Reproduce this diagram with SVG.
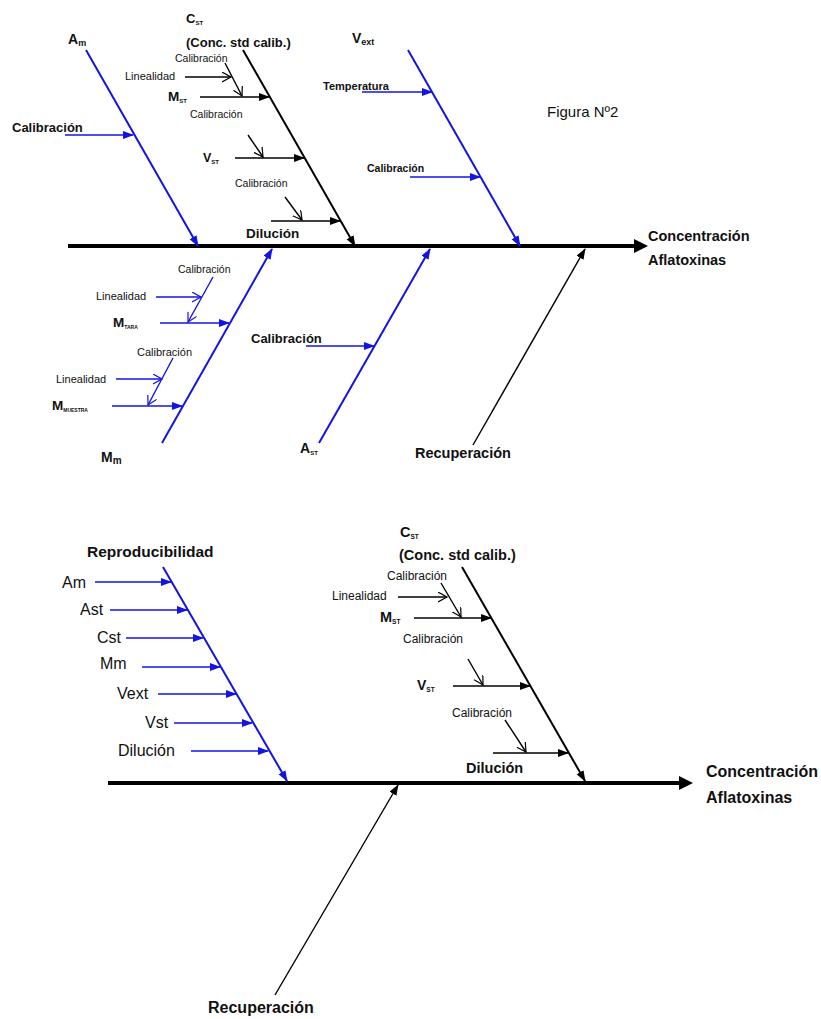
<svg xmlns="http://www.w3.org/2000/svg" width="821" height="1019" viewBox="0 0 821 1019">
  <style>
    text { font-family: "Liberation Sans", Arial, sans-serif; fill: #111; }
    .b { font-weight: bold; }
    .sub { font-weight: bold; }
    .spine { stroke: #000; stroke-width: 4; fill: none; }
    .bone-k { stroke: #000; stroke-width: 2; fill: none; }
    .bone-u { stroke: #1414e0; stroke-width: 2; fill: none; }
    .rib-k { stroke: #000; stroke-width: 1.4; fill: none; }
    .rib-u { stroke: #1414e0; stroke-width: 1.4; fill: none; }
  </style>
  <defs>
    <marker id="head-spine" markerUnits="userSpaceOnUse" markerWidth="16" markerHeight="16" refX="6" refY="7" orient="auto">
      <path d="M0,0 L14,7 L0,14 z" fill="#000"/>
    </marker>
    <marker id="fill-k" markerUnits="userSpaceOnUse" markerWidth="12" markerHeight="10" refX="10" refY="4" orient="auto">
      <path d="M0,0 L11,4 L0,8 z" fill="#000"/>
    </marker>
    <marker id="fill-u" markerUnits="userSpaceOnUse" markerWidth="12" markerHeight="10" refX="10" refY="4" orient="auto">
      <path d="M0,0 L11,4 L0,8 z" fill="#1414e0"/>
    </marker>
    <marker id="open-k" markerUnits="userSpaceOnUse" markerWidth="12" markerHeight="12" refX="9" refY="5" orient="auto">
      <path d="M0,0 L9,5 L0,10" fill="none" stroke="#000" stroke-width="1.2"/>
    </marker>
    <marker id="open-u" markerUnits="userSpaceOnUse" markerWidth="12" markerHeight="12" refX="9" refY="5" orient="auto">
      <path d="M0,0 L9,5 L0,10" fill="none" stroke="#1414e0" stroke-width="1.2"/>
    </marker>
  </defs>

  <!-- ===== Upper fishbone ===== -->
  <g id="connectors-top">
    <line class="spine" x1="68" y1="246" x2="640" y2="246" marker-end="url(#head-spine)"/>
    <!-- A_m bone -->
    <line class="bone-u" x1="86" y1="50" x2="198" y2="246" marker-end="url(#fill-u)"/>
    <line class="rib-u" x1="65" y1="135" x2="133" y2="135" marker-end="url(#fill-u)"/>
    <!-- C_ST bone -->
    <line class="bone-k" x1="243" y1="50" x2="355" y2="246" marker-end="url(#fill-k)"/>
    <line class="rib-k" x1="200" y1="97" x2="269" y2="97" marker-end="url(#fill-k)"/>
    <line class="rib-k" x1="185" y1="77" x2="231" y2="77" marker-end="url(#open-k)"/>
    <line class="rib-k" x1="225" y1="63" x2="242" y2="96" marker-end="url(#open-k)"/>
    <line class="rib-k" x1="235" y1="158" x2="304" y2="158" marker-end="url(#fill-k)"/>
    <line class="rib-k" x1="248" y1="135" x2="263" y2="157" marker-end="url(#open-k)"/>
    <line class="rib-k" x1="271" y1="221" x2="340" y2="221" marker-end="url(#fill-k)"/>
    <line class="rib-k" x1="285" y1="197" x2="302" y2="220" marker-end="url(#open-k)"/>
    <!-- V_ext bone -->
    <line class="bone-u" x1="408" y1="50" x2="520" y2="246" marker-end="url(#fill-u)"/>
    <line class="rib-u" x1="362" y1="92" x2="432" y2="92" marker-end="url(#fill-u)"/>
    <line class="rib-u" x1="410" y1="177" x2="480" y2="177" marker-end="url(#fill-u)"/>
    <!-- M_m bone -->
    <line class="bone-u" x1="162" y1="443" x2="272" y2="249" marker-end="url(#fill-u)"/>
    <line class="rib-u" x1="160" y1="323" x2="229" y2="323" marker-end="url(#fill-u)"/>
    <line class="rib-u" x1="156" y1="297" x2="201" y2="297" marker-end="url(#open-u)"/>
    <line class="rib-u" x1="213" y1="277" x2="188" y2="322" marker-end="url(#open-u)"/>
    <line class="rib-u" x1="112" y1="406" x2="182" y2="406" marker-end="url(#fill-u)"/>
    <line class="rib-u" x1="116" y1="379" x2="162" y2="379" marker-end="url(#open-u)"/>
    <line class="rib-u" x1="173" y1="358" x2="148" y2="405" marker-end="url(#open-u)"/>
    <!-- A_ST bone -->
    <line class="bone-u" x1="319" y1="443" x2="430" y2="249" marker-end="url(#fill-u)"/>
    <line class="rib-u" x1="306" y1="346" x2="374" y2="346" marker-end="url(#fill-u)"/>
    <!-- Recuperación bone -->
    <line class="rib-k" x1="473" y1="445" x2="585" y2="249" stroke-width="1.6" marker-end="url(#fill-k)"/>
  </g>

  <g id="effect-top">
    <text class="b" x="648" y="241" font-size="14.5">Concentración</text>
    <text class="b" x="648" y="265" font-size="14.5">Aflatoxinas</text>
  </g>
  <g id="node-am">
    <text class="b" x="68" y="44" font-size="14">A<tspan font-size="9" dy="2">m</tspan></text>
    <text class="b" x="12" y="132" font-size="13">Calibración</text>
  </g>
  <g id="node-cst">
    <text class="b" x="186" y="23" font-size="13">C<tspan class="sub" font-size="6" dy="2">ST</tspan></text>
    <text class="b" x="186" y="47" font-size="13">(Conc. std calib.)</text>
    <text x="175" y="62" font-size="10.5">Calibración</text>
    <text x="125" y="80" font-size="11">Linealidad</text>
    <text class="b" x="168" y="101" font-size="13.5">M<tspan class="sub" font-size="6" dy="2">ST</tspan></text>
    <text x="190" y="118" font-size="10.5">Calibración</text>
    <text class="b" x="203" y="162" font-size="12.5">V<tspan class="sub" font-size="6" dy="2">ST</tspan></text>
    <text x="235" y="187" font-size="10.5">Calibración</text>
    <text class="b" x="246" y="238" font-size="13.5">Dilución</text>
  </g>
  <g id="node-vext">
    <text class="b" x="352" y="43" font-size="14">V<tspan font-size="9" dy="2">ext</tspan></text>
    <text class="b" x="323" y="90" font-size="11">Temperatura</text>
    <text class="b" x="367" y="172" font-size="10.5">Calibración</text>
  </g>
  <g id="caption">
    <text x="547" y="117" font-size="15">Figura Nº2</text>
  </g>
  <g id="node-mm">
    <text x="178" y="273" font-size="10.5">Calibración</text>
    <text x="96" y="300" font-size="11">Linealidad</text>
    <text class="b" x="113" y="327" font-size="13.5">M<tspan class="sub" font-size="5" dy="2">TARA</tspan></text>
    <text x="137" y="356" font-size="11">Calibración</text>
    <text x="56" y="383" font-size="11">Linealidad</text>
    <text class="b" x="52" y="410" font-size="13.5">M<tspan class="sub" font-size="5" dy="2">MUESTRA</tspan></text>
    <text class="b" x="101" y="462" font-size="14">M<tspan font-size="10" dy="2">m</tspan></text>
  </g>
  <g id="node-ast">
    <text class="b" x="251" y="343" font-size="13">Calibración</text>
    <text class="b" x="300" y="453" font-size="14">A<tspan class="sub" font-size="6" dy="2">ST</tspan></text>
  </g>
  <g id="node-recuperacion-top">
    <text class="b" x="415" y="458" font-size="14.5">Recuperación</text>
  </g>

  <!-- ===== Lower fishbone ===== -->
  <g id="connectors-bottom">
    <line class="spine" x1="108" y1="783" x2="685" y2="783" marker-end="url(#head-spine)"/>
    <!-- Reproducibilidad bone -->
    <line class="bone-u" x1="163" y1="567" x2="287" y2="781" marker-end="url(#fill-u)"/>
    <line class="rib-u" x1="95" y1="582" x2="171" y2="582" marker-end="url(#fill-u)"/>
    <line class="rib-u" x1="110" y1="610" x2="187" y2="610" marker-end="url(#fill-u)"/>
    <line class="rib-u" x1="126" y1="638" x2="203" y2="638" marker-end="url(#fill-u)"/>
    <line class="rib-u" x1="142" y1="667" x2="220" y2="667" marker-end="url(#fill-u)"/>
    <line class="rib-u" x1="158" y1="694" x2="236" y2="694" marker-end="url(#fill-u)"/>
    <line class="rib-u" x1="174" y1="723" x2="252" y2="723" marker-end="url(#fill-u)"/>
    <line class="rib-u" x1="191" y1="751" x2="268" y2="751" marker-end="url(#fill-u)"/>
    <!-- C_ST bone -->
    <line class="bone-k" x1="462" y1="567" x2="585" y2="781" marker-end="url(#fill-k)"/>
    <line class="rib-k" x1="414" y1="618" x2="491" y2="618" marker-end="url(#fill-k)"/>
    <line class="rib-k" x1="398" y1="597" x2="447" y2="597" marker-end="url(#open-k)"/>
    <line class="rib-k" x1="441" y1="583" x2="461" y2="617" marker-end="url(#open-k)"/>
    <line class="rib-k" x1="453" y1="686" x2="530" y2="686" marker-end="url(#fill-k)"/>
    <line class="rib-k" x1="468" y1="659" x2="483" y2="685" marker-end="url(#open-k)"/>
    <line class="rib-k" x1="493" y1="753" x2="568" y2="753" marker-end="url(#fill-k)"/>
    <line class="rib-k" x1="505" y1="720" x2="526" y2="752" marker-end="url(#open-k)"/>
    <!-- Recuperación bone -->
    <line class="rib-k" x1="275" y1="995" x2="398" y2="785" stroke-width="1.6" marker-end="url(#fill-k)"/>
  </g>

  <g id="effect-bottom">
    <text class="b" x="706" y="777" font-size="16">Concentración</text>
    <text class="b" x="706" y="803" font-size="16">Aflatoxinas</text>
  </g>
  <g id="node-reproducibilidad">
    <text class="b" x="87" y="557" font-size="15.5">Reproducibilidad</text>
    <text x="62" y="588" font-size="16">Am</text>
    <text x="80" y="615" font-size="16">Ast</text>
    <text x="97" y="643" font-size="16">Cst</text>
    <text x="100" y="669" font-size="16">Mm</text>
    <text x="117" y="699" font-size="16">Vext</text>
    <text x="145" y="728" font-size="16">Vst</text>
    <text x="118" y="756" font-size="16">Dilución</text>
  </g>
  <g id="node-cst-bottom">
    <text class="b" x="400" y="537" font-size="14.5">C<tspan class="sub" font-size="6.5" dy="2">ST</tspan></text>
    <text class="b" x="399" y="560" font-size="14.5">(Conc. std calib.)</text>
    <text x="387" y="580" font-size="12">Calibración</text>
    <text x="332" y="600" font-size="12">Linealidad</text>
    <text class="b" x="380" y="622" font-size="14.5">M<tspan class="sub" font-size="6.5" dy="2">ST</tspan></text>
    <text x="403" y="643" font-size="12">Calibración</text>
    <text class="b" x="417" y="690" font-size="14">V<tspan class="sub" font-size="6.5" dy="2">ST</tspan></text>
    <text x="452" y="717" font-size="12">Calibración</text>
    <text class="b" x="466" y="773" font-size="14.5">Dilución</text>
  </g>
  <g id="node-recuperacion-bottom">
    <text class="b" x="208" y="1013" font-size="16">Recuperación</text>
  </g>
</svg>
